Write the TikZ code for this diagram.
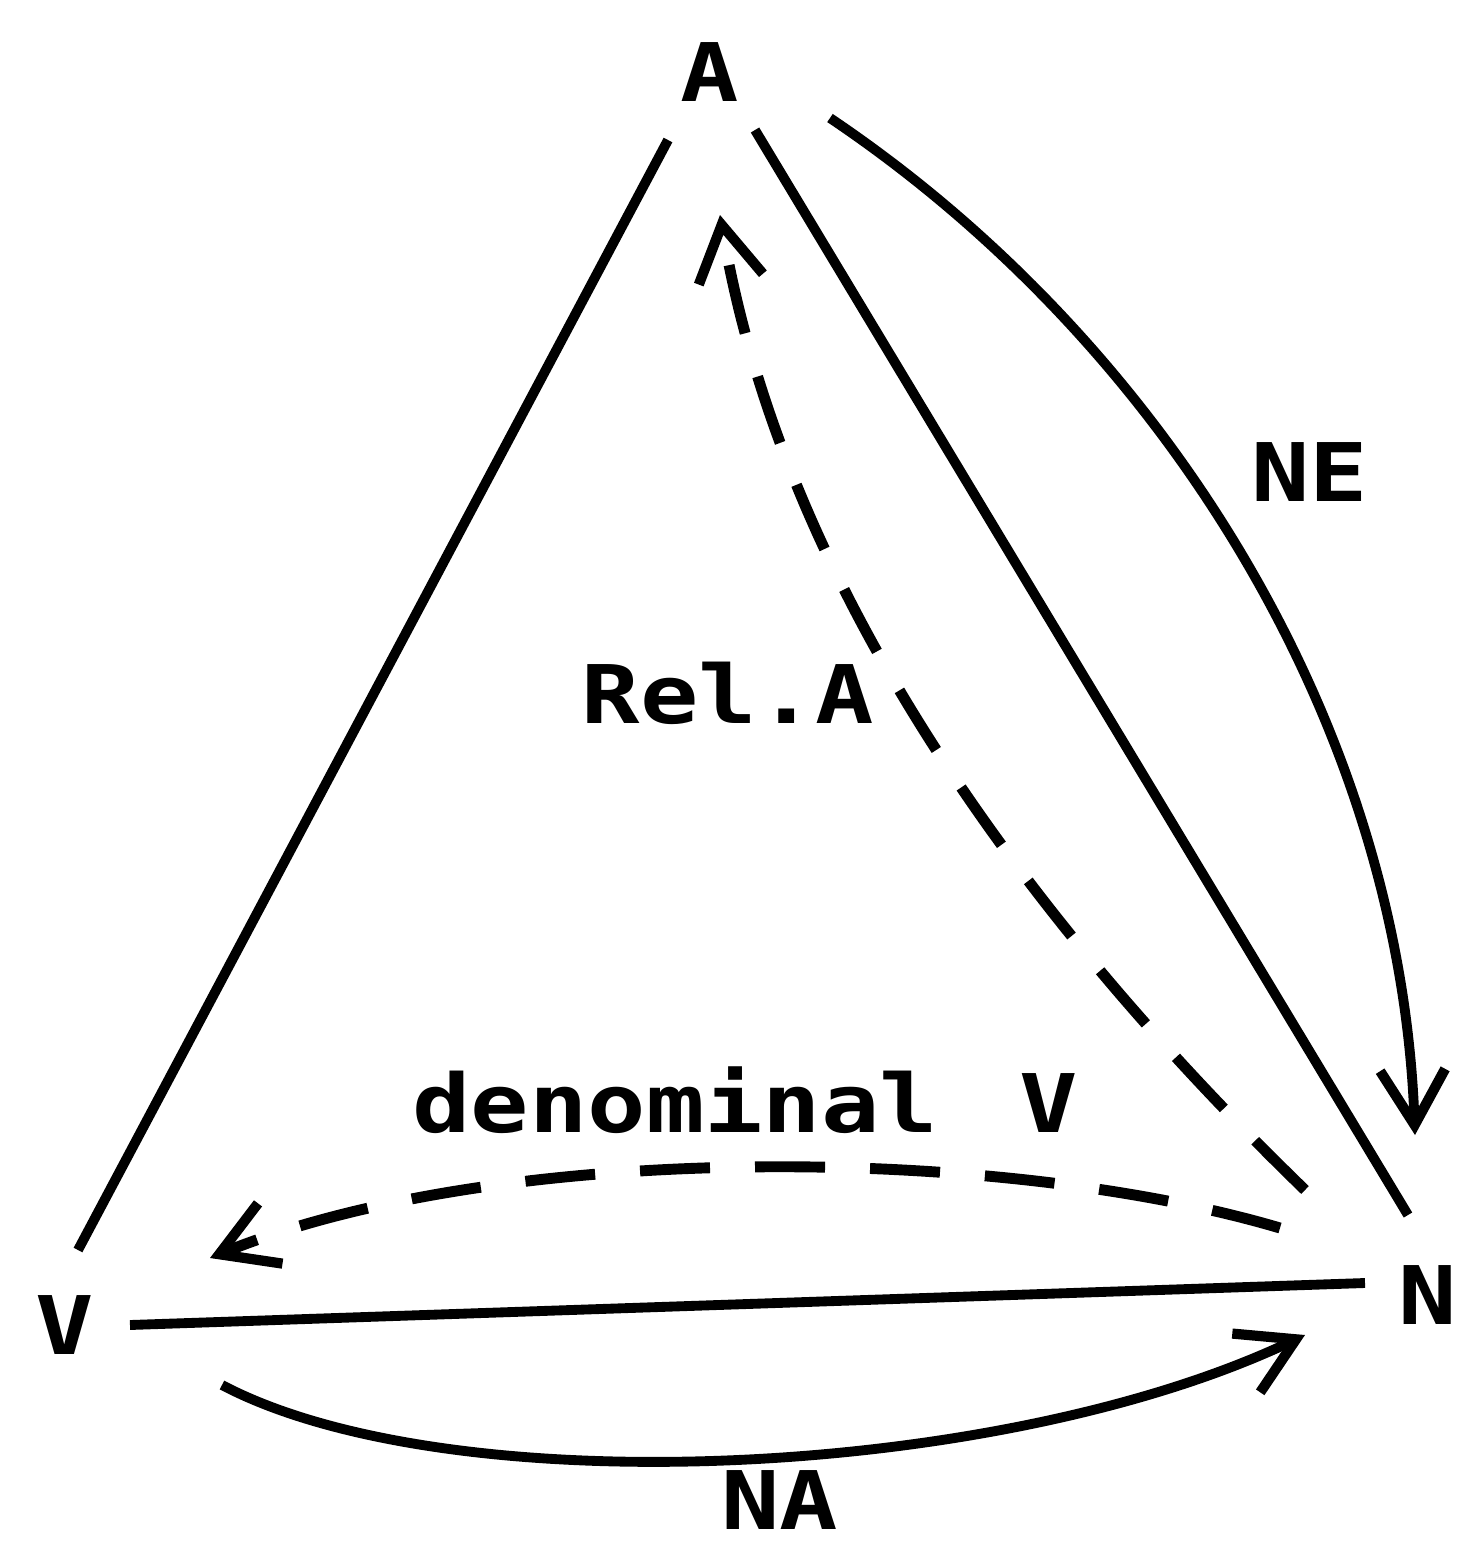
\documentclass[tikz,border=0pt]{standalone}
\usepackage{fontspec}
\newfontfamily\lblfont{DejaVu Sans Mono}[FakeStretch=1.2]
\usetikzlibrary{arrows.meta}
\begin{document}
\begin{tikzpicture}[x=0.01cm,y=-0.01cm,
  lbl/.style={font=\lblfont\bfseries\fontsize{23}{23}\selectfont, inner sep=0pt},
  edge/.style={line width=2.8pt},
  dashedge/.style={line width=3.1pt, dash pattern=on 0.7cm off 0.45cm},
  tip/.style={-{Straight Barb[length=0.55cm,width=0.65cm,line width=2.9pt]}}]
\useasboundingbox (0,0) rectangle (1461,1547);
\node[lbl] (A) at (710,72) {A};
\node[lbl] (V) at (65,1325) {V};
\node[lbl] (N) at (1428,1295) {N};
\node[lbl] (ne) at (1310,472) {NE};
\node[lbl] (rel) at (728,693) {Rel.A};
\node[lbl] (den) at (745,1100) {denominal\hspace{1em}V};
\node[lbl] (na) at (780,1500) {NA};
% triangle
\draw[edge] ([shift={(-42,68)}]A.center) -- ([shift={(13,-75)}]V.center);
\draw[edge] ([shift={(45,58)}]A.center) -- ([shift={(-20,-80)}]N.center);
\draw[edge] ([shift={(65,0)}]V.center) -- ([shift={(-63,-12)}]N.center);
% NE
\draw[edge,tip] ([shift={(120,46)}]A.center) .. controls (1160,340) and (1400,720) .. ([shift={(-13,-160)}]N.center);
% Rel.A
\draw[dashedge,tip] ([shift={(-123,-105)}]N.center) .. controls (970,865) and (775,540) .. ([shift={(10,143)}]A.center);
% denominal V
\draw[dashedge,tip] ([shift={(-148,-67)}]N.center) .. controls (1000,1145) and (500,1140) .. ([shift={(145,-67)}]V.center);
% NA
\draw[edge,tip] ([shift={(157,60)}]V.center) .. controls (450,1505) and (1000,1480) .. ([shift={(-123,40)}]N.center);
\end{tikzpicture}
\end{document}
